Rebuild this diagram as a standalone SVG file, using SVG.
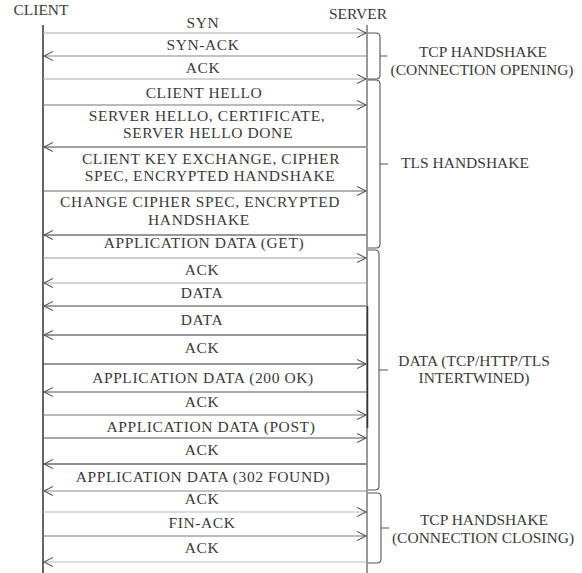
<svg xmlns="http://www.w3.org/2000/svg" width="582" height="573" viewBox="0 0 582 573">
<defs>
<marker id="ah" markerUnits="userSpaceOnUse" markerWidth="12" markerHeight="12" refX="9" refY="5" orient="auto" viewBox="0 0 12 10">
<path d="M0,0.5 L9,5 L0,9.5" fill="none" stroke="#555" stroke-width="1.1"/>
</marker>
</defs>
<style>
text{font-family:"Liberation Serif","Times New Roman",serif;font-size:15.5px;fill:#3a3a3a;text-anchor:middle}
#labels text{letter-spacing:0.6px}
.msg{fill:none;stroke-width:1.2;marker-end:url(#ah)}
.brace{fill:none;stroke:#555;stroke-width:1.1}
</style>
<rect width="582" height="573" fill="#fff"/>
<g id="client">
<text x="41" y="15">CLIENT</text>
<line x1="43" y1="25" x2="43" y2="573" stroke="#333" stroke-width="1.5"/>
</g>
<g id="server">
<text x="358" y="19">SERVER</text>
<line x1="367" y1="25" x2="367" y2="573" stroke="#999" stroke-width="2"/>
<line x1="367.5" y1="306" x2="367.5" y2="428" stroke="#333" stroke-width="1.5"/>
</g>
<g id="connectors">
<line class="msg" x1="43" y1="33" x2="366" y2="33" stroke="#aaa"/>
<line class="msg" x1="366" y1="56" x2="44" y2="56" stroke="#888"/>
<line class="msg" x1="43" y1="79" x2="366" y2="79" stroke="#aaa"/>
<line class="msg" x1="43" y1="105" x2="366" y2="105" stroke="#777"/>
<line class="msg" x1="366" y1="147" x2="44" y2="147" stroke="#444"/>
<line class="msg" x1="43" y1="191" x2="366" y2="191" stroke="#666"/>
<line class="msg" x1="366" y1="235" x2="44" y2="235" stroke="#333"/>
<line class="msg" x1="43" y1="258" x2="366" y2="258" stroke="#999"/>
<line class="msg" x1="366" y1="283" x2="44" y2="283" stroke="#aaa"/>
<line class="msg" x1="366" y1="306" x2="44" y2="306" stroke="#444"/>
<line class="msg" x1="366" y1="335" x2="44" y2="335" stroke="#333"/>
<line class="msg" x1="43" y1="364" x2="366" y2="364" stroke="#333"/>
<line class="msg" x1="366" y1="392" x2="44" y2="392" stroke="#555"/>
<line class="msg" x1="43" y1="415" x2="366" y2="415" stroke="#777"/>
<line class="msg" x1="43" y1="438" x2="366" y2="438" stroke="#555"/>
<line class="msg" x1="366" y1="464" x2="44" y2="464" stroke="#222"/>
<line class="msg" x1="366" y1="491" x2="44" y2="491" stroke="#888"/>
<line class="msg" x1="43" y1="512" x2="366" y2="512" stroke="#bbb"/>
<line class="msg" x1="43" y1="536" x2="366" y2="536" stroke="#777"/>
<line class="msg" x1="366" y1="562" x2="44" y2="562" stroke="#bbb"/>
</g>
<g id="labels">
<text x="203" y="28">SYN</text>
<text x="203" y="50">SYN-ACK</text>
<text x="203" y="73">ACK</text>
<text x="204" y="98">CLIENT HELLO</text>
<text x="207" y="121">SERVER HELLO, CERTIFICATE,</text>
<text x="208" y="138">SERVER HELLO DONE</text>
<text x="211" y="164">CLIENT KEY EXCHANGE, CIPHER</text>
<text x="210" y="181">SPEC, ENCRYPTED HANDSHAKE</text>
<text x="200" y="207">CHANGE CIPHER SPEC, ENCRYPTED</text>
<text x="199" y="225">HANDSHAKE</text>
<text x="204" y="248">APPLICATION DATA (GET)</text>
<text x="202" y="275">ACK</text>
<text x="202" y="298">DATA</text>
<text x="202" y="325">DATA</text>
<text x="202" y="353">ACK</text>
<text x="203" y="383">APPLICATION DATA (200 OK)</text>
<text x="202" y="407">ACK</text>
<text x="211" y="432">APPLICATION DATA (POST)</text>
<text x="202" y="455">ACK</text>
<text x="203" y="482">APPLICATION DATA (302 FOUND)</text>
<text x="202" y="504">ACK</text>
<text x="202" y="528">FIN-ACK</text>
<text x="202" y="553">ACK</text>
</g>
<g id="tcp-open">
<path class="brace" d="M368,33 H376 Q380,33 380,37 V75 Q380,79 376,79 H368 M380,56 H387"/>
<text x="483" y="57">TCP HANDSHAKE</text>
<text x="482" y="75">(CONNECTION OPENING)</text>
</g>
<g id="tls">
<path class="brace" d="M368,80 H376 Q380,80 380,84 V244 Q380,248 376,248 H368 M380,164 H388"/>
<text x="465" y="168">TLS HANDSHAKE</text>
</g>
<g id="data">
<path class="brace" d="M368,250 H375 Q379,250 379,254 V486 Q379,490 375,490 H368 M379,370 H388"/>
<text x="474" y="366">DATA (TCP/HTTP/TLS</text>
<text x="474" y="383">INTERTWINED)</text>
</g>
<g id="tcp-close">
<path class="brace" d="M368,493 H377 Q381,493 381,497 V559 Q381,563 377,563 H368 M381,528 H389"/>
<text x="484" y="525">TCP HANDSHAKE</text>
<text x="483" y="543">(CONNECTION CLOSING)</text>
</g>
</svg>
